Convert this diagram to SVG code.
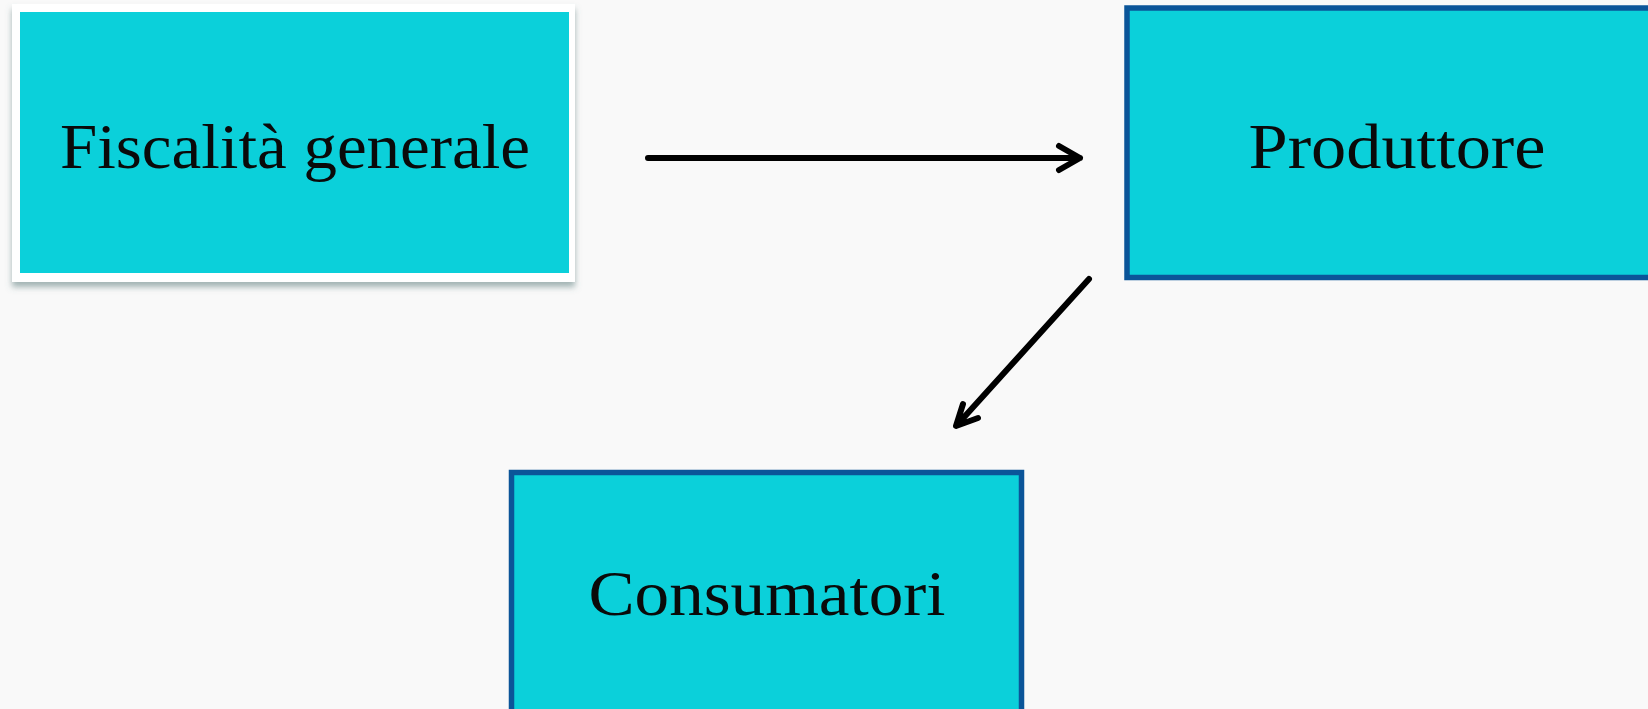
<svg xmlns="http://www.w3.org/2000/svg" width="1648" height="709" viewBox="0 0 1648 709">
<defs>
<style>
.box{fill:#0BD0DA}
.framed{stroke:#0B5599;stroke-width:5.5}
.lbl{font-family:"Liberation Serif","DejaVu Serif",serif;font-size:64px;fill:#0A0A0A;text-anchor:middle}
.conn{stroke:#000;stroke-width:6;fill:none;stroke-linecap:round;stroke-linejoin:round}
</style>
<filter id="sh" x="-5%" y="-5%" width="110%" height="115%">
<feDropShadow dx="0" dy="5" stdDeviation="3" flood-color="#5a7a7a" flood-opacity="0.55"/>
</filter>
</defs>
<rect width="1648" height="709" fill="#F9F9F9"/>
<g id="fiscalita">
<rect x="12" y="4" width="563" height="278" fill="#FFFFFF" filter="url(#sh)"/>
<rect class="box" x="20" y="12" width="549" height="261"/>
<text class="lbl" x="295" y="168" textLength="470" lengthAdjust="spacingAndGlyphs">Fiscalità generale</text>
</g>
<g id="produttore">
<rect class="box framed" x="1127" y="8" width="540" height="269.5"/>
<text class="lbl" x="1397" y="168" textLength="297" lengthAdjust="spacingAndGlyphs">Produttore</text>
</g>
<g id="consumatori">
<rect class="box framed" x="511.5" y="472.5" width="510" height="260"/>
<text class="lbl" x="767" y="615" textLength="357" lengthAdjust="spacingAndGlyphs">Consumatori</text>
</g>
<g id="connectors">
<path class="conn" d="M648,158 L1080,158 M1059,146 L1080,158 L1059,170"/>
<path class="conn" d="M1089,279 L957,425 M963,404 L956,426 L978,418"/>
</g>
</svg>
